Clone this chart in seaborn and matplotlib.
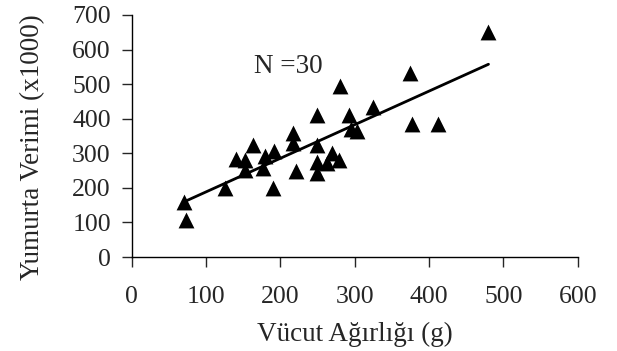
import pandas as pd
import matplotlib
matplotlib.use('Agg')
import matplotlib.pyplot as plt
import seaborn as sns

# body weight (g) and egg yield (x1000)
weight = [71, 73, 125, 140, 152, 152, 163, 177, 180, 192, 190, 217, 217, 221, 249,
          249, 249, 249, 263, 270, 279, 280, 293, 295, 303, 324, 480, 374, 377, 412]
yield_ = [160, 107, 199, 284, 281, 252, 325, 257, 293, 307, 201, 360, 331, 250, 412,
          323, 276, 244, 273, 300, 281, 494, 412, 370, 365, 433, 651, 532, 386, 386]

df = pd.DataFrame({'weight': weight, 'yield': yield_})

sns.set_style('ticks')
plt.rcParams['font.family'] = ['Liberation Serif', 'DejaVu Serif']

fig = plt.figure(figsize=(6.17, 3.51), dpi=100)
ax = fig.add_axes([0.2134, 0.2678, 0.7229, 0.6895])

sns.regplot(data=df, x='weight', y='yield', ax=ax, ci=None,
            marker='^', color='black',
            scatter_kws={'s': 130, 'linewidths': 0, 'alpha': 1},
            line_kws={'linewidth': 2})

ax.set_xlim(0, 600)
ax.set_ylim(0, 700)
ax.set_xticks(range(0, 601, 100))
ax.set_yticks(range(0, 701, 100))
ax.tick_params(labelsize=18.5, length=7, width=1, direction='out')
ax.tick_params(axis='x', pad=14)
ax.tick_params(axis='y', pad=8)
ax.set_xlabel('Vücut Ağırlığı (g)', fontsize=19.5)
ax.set_ylabel('Yumurta Verimi (x1000)', fontsize=19.5)
ax.xaxis.set_label_coords(0.5, -0.27)
ax.yaxis.set_label_coords(-0.195, 0.455)
ax.text(165, 551, 'N =30', fontsize=19.5, va='center', ha='left')

sns.despine(ax=ax)
for s in ['left', 'bottom']:
    ax.spines[s].set_linewidth(1)
    ax.spines[s].set_color('black')

fig.savefig('out.png', dpi=100)
